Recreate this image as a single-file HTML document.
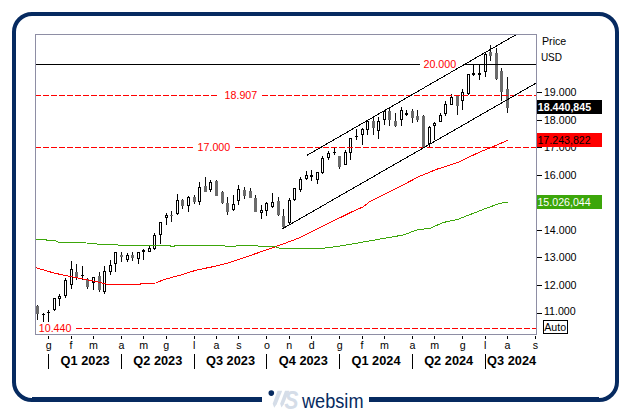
<!DOCTYPE html>
<html><head><meta charset="utf-8"><title>chart</title>
<style>
html,body{margin:0;padding:0;background:#fff;}
body{width:631px;height:414px;overflow:hidden;position:relative;font-family:"Liberation Sans",sans-serif;}
.frame{position:absolute;left:12px;top:12px;width:599px;height:382px;border:4px solid #062a60;border-radius:20px;box-sizing:content-box;}
.logo{position:absolute;left:262px;top:386px;width:107px;height:28px;background:#fff;}
svg{position:absolute;left:0;top:0;}
.t{font:10.67px "Liberation Sans",sans-serif;fill:#000;}
.q{font:bold 13.5px "Liberation Sans",sans-serif;fill:#000;}
.r{font:10.67px "Liberation Sans",sans-serif;fill:#ff0000;}
</style></head><body>
<div class="frame"></div>
<div style="position:absolute;left:32px;top:397.4px;width:567px;height:2px;background:#062a60"></div>
<div class="logo"></div>
<svg width="631" height="414" viewBox="0 0 631 414">
<g shape-rendering="crispEdges">
<rect x="35.5" y="34.5" width="501" height="300" fill="#fff" stroke="#8e8ea4" stroke-width="1"/>
<clipPath id="cp"><rect x="36" y="35" width="500" height="299"/></clipPath>
<g clip-path="url(#cp)">
<rect x="37" y="305" width="1" height="15" fill="#111"/>
<rect x="36" y="306" width="3" height="8" fill="#6b6b6b"/>
<rect x="43" y="313" width="1" height="9" fill="#000"/>
<rect x="42" y="314" width="3" height="1" fill="#000"/>
<rect x="48" y="310" width="1" height="12" fill="#000"/>
<rect x="47" y="312" width="3" height="1" fill="#000"/>
<rect x="54" y="310" width="1" height="1" fill="#000"/>
<rect x="53" y="298" width="3" height="12" fill="#000"/>
<rect x="54" y="299" width="1" height="10" fill="#fff"/>
<rect x="59" y="294" width="1" height="2" fill="#000"/>
<rect x="59" y="298" width="1" height="8" fill="#000"/>
<rect x="58" y="296" width="3" height="3" fill="#000"/>
<rect x="59" y="297" width="1" height="1" fill="#fff"/>
<rect x="65" y="278" width="1" height="2" fill="#000"/>
<rect x="65" y="296" width="1" height="2" fill="#000"/>
<rect x="64" y="280" width="3" height="16" fill="#000"/>
<rect x="65" y="281" width="1" height="14" fill="#fff"/>
<rect x="71" y="261" width="1" height="8" fill="#000"/>
<rect x="71" y="285" width="1" height="4" fill="#000"/>
<rect x="70" y="269" width="3" height="16" fill="#000"/>
<rect x="71" y="270" width="1" height="14" fill="#fff"/>
<rect x="76" y="264" width="1" height="16" fill="#111"/>
<rect x="75" y="272" width="3" height="5" fill="#6b6b6b"/>
<rect x="82" y="266" width="1" height="14" fill="#000"/>
<rect x="81" y="275" width="3" height="1" fill="#000"/>
<rect x="87" y="278" width="1" height="11" fill="#111"/>
<rect x="86" y="279" width="3" height="8" fill="#6b6b6b"/>
<rect x="93" y="283" width="1" height="7" fill="#000"/>
<rect x="92" y="277" width="3" height="6" fill="#000"/>
<rect x="93" y="278" width="1" height="4" fill="#fff"/>
<rect x="99" y="272" width="1" height="20" fill="#111"/>
<rect x="98" y="276" width="3" height="14" fill="#6b6b6b"/>
<rect x="104" y="266" width="1" height="5" fill="#000"/>
<rect x="104" y="292" width="1" height="2" fill="#000"/>
<rect x="103" y="271" width="3" height="21" fill="#000"/>
<rect x="104" y="272" width="1" height="19" fill="#fff"/>
<rect x="110" y="260" width="1" height="5" fill="#000"/>
<rect x="110" y="272" width="1" height="3" fill="#000"/>
<rect x="109" y="265" width="3" height="7" fill="#000"/>
<rect x="110" y="266" width="1" height="5" fill="#fff"/>
<rect x="115" y="264" width="1" height="8" fill="#000"/>
<rect x="114" y="252" width="3" height="12" fill="#000"/>
<rect x="115" y="253" width="1" height="10" fill="#fff"/>
<rect x="121" y="252" width="1" height="10" fill="#111"/>
<rect x="120" y="255" width="3" height="2" fill="#6b6b6b"/>
<rect x="127" y="253" width="1" height="2" fill="#000"/>
<rect x="127" y="260" width="1" height="2" fill="#000"/>
<rect x="126" y="255" width="3" height="5" fill="#000"/>
<rect x="127" y="256" width="1" height="3" fill="#fff"/>
<rect x="132" y="252" width="1" height="9" fill="#111"/>
<rect x="131" y="255" width="3" height="3" fill="#6b6b6b"/>
<rect x="138" y="259" width="1" height="5" fill="#000"/>
<rect x="137" y="252" width="3" height="7" fill="#000"/>
<rect x="138" y="253" width="1" height="5" fill="#fff"/>
<rect x="143" y="249" width="1" height="11" fill="#000"/>
<rect x="142" y="250" width="3" height="2" fill="#000"/>
<rect x="149" y="246" width="1" height="2" fill="#000"/>
<rect x="148" y="248" width="3" height="4" fill="#000"/>
<rect x="149" y="249" width="1" height="2" fill="#fff"/>
<rect x="154" y="233" width="1" height="2" fill="#000"/>
<rect x="154" y="249" width="1" height="1" fill="#000"/>
<rect x="153" y="235" width="3" height="14" fill="#000"/>
<rect x="154" y="236" width="1" height="12" fill="#fff"/>
<rect x="160" y="235" width="1" height="9" fill="#000"/>
<rect x="159" y="222" width="3" height="13" fill="#000"/>
<rect x="160" y="223" width="1" height="11" fill="#fff"/>
<rect x="166" y="213" width="1" height="2" fill="#000"/>
<rect x="166" y="218" width="1" height="7" fill="#000"/>
<rect x="165" y="215" width="3" height="3" fill="#000"/>
<rect x="166" y="216" width="1" height="1" fill="#fff"/>
<rect x="171" y="211" width="1" height="11" fill="#111"/>
<rect x="170" y="215" width="3" height="1" fill="#6b6b6b"/>
<rect x="177" y="194" width="1" height="6" fill="#000"/>
<rect x="177" y="214" width="1" height="1" fill="#000"/>
<rect x="176" y="200" width="3" height="14" fill="#000"/>
<rect x="177" y="201" width="1" height="12" fill="#fff"/>
<rect x="182" y="199" width="1" height="10" fill="#111"/>
<rect x="181" y="200" width="3" height="6" fill="#6b6b6b"/>
<rect x="188" y="196" width="1" height="1" fill="#000"/>
<rect x="188" y="206" width="1" height="6" fill="#000"/>
<rect x="187" y="197" width="3" height="9" fill="#000"/>
<rect x="188" y="198" width="1" height="7" fill="#fff"/>
<rect x="194" y="195" width="1" height="9" fill="#111"/>
<rect x="193" y="197" width="3" height="5" fill="#6b6b6b"/>
<rect x="199" y="182" width="1" height="5" fill="#000"/>
<rect x="199" y="202" width="1" height="3" fill="#000"/>
<rect x="198" y="187" width="3" height="15" fill="#000"/>
<rect x="199" y="188" width="1" height="13" fill="#fff"/>
<rect x="205" y="177" width="1" height="15" fill="#111"/>
<rect x="204" y="186" width="3" height="6" fill="#6b6b6b"/>
<rect x="210" y="180" width="1" height="2" fill="#000"/>
<rect x="210" y="190" width="1" height="2" fill="#000"/>
<rect x="209" y="182" width="3" height="8" fill="#000"/>
<rect x="210" y="183" width="1" height="6" fill="#fff"/>
<rect x="216" y="180" width="1" height="16" fill="#111"/>
<rect x="215" y="181" width="3" height="15" fill="#6b6b6b"/>
<rect x="222" y="191" width="1" height="13" fill="#111"/>
<rect x="221" y="192" width="3" height="11" fill="#6b6b6b"/>
<rect x="227" y="197" width="1" height="18" fill="#111"/>
<rect x="226" y="203" width="3" height="9" fill="#6b6b6b"/>
<rect x="233" y="195" width="1" height="9" fill="#000"/>
<rect x="233" y="210" width="1" height="1" fill="#000"/>
<rect x="232" y="204" width="3" height="6" fill="#000"/>
<rect x="233" y="205" width="1" height="4" fill="#fff"/>
<rect x="238" y="185" width="1" height="4" fill="#000"/>
<rect x="238" y="201" width="1" height="4" fill="#000"/>
<rect x="237" y="189" width="3" height="12" fill="#000"/>
<rect x="238" y="190" width="1" height="10" fill="#fff"/>
<rect x="244" y="187" width="1" height="12" fill="#111"/>
<rect x="243" y="190" width="3" height="6" fill="#6b6b6b"/>
<rect x="250" y="188" width="1" height="10" fill="#111"/>
<rect x="249" y="191" width="3" height="7" fill="#6b6b6b"/>
<rect x="255" y="195" width="1" height="17" fill="#111"/>
<rect x="254" y="198" width="3" height="14" fill="#6b6b6b"/>
<rect x="261" y="205" width="1" height="5" fill="#000"/>
<rect x="261" y="212" width="1" height="7" fill="#000"/>
<rect x="260" y="210" width="3" height="3" fill="#000"/>
<rect x="261" y="211" width="1" height="1" fill="#fff"/>
<rect x="266" y="202" width="1" height="1" fill="#000"/>
<rect x="266" y="211" width="1" height="5" fill="#000"/>
<rect x="265" y="203" width="3" height="8" fill="#000"/>
<rect x="266" y="204" width="1" height="6" fill="#fff"/>
<rect x="272" y="193" width="1" height="9" fill="#000"/>
<rect x="272" y="207" width="1" height="1" fill="#000"/>
<rect x="271" y="202" width="3" height="5" fill="#000"/>
<rect x="272" y="203" width="1" height="3" fill="#fff"/>
<rect x="278" y="197" width="1" height="19" fill="#111"/>
<rect x="277" y="201" width="3" height="14" fill="#6b6b6b"/>
<rect x="283" y="209" width="1" height="19" fill="#111"/>
<rect x="282" y="216" width="3" height="11" fill="#6b6b6b"/>
<rect x="289" y="198" width="1" height="2" fill="#000"/>
<rect x="289" y="223" width="1" height="1" fill="#000"/>
<rect x="288" y="200" width="3" height="23" fill="#000"/>
<rect x="289" y="201" width="1" height="21" fill="#fff"/>
<rect x="294" y="200" width="1" height="1" fill="#000"/>
<rect x="293" y="188" width="3" height="12" fill="#000"/>
<rect x="294" y="189" width="1" height="10" fill="#fff"/>
<rect x="300" y="177" width="1" height="2" fill="#000"/>
<rect x="300" y="190" width="1" height="2" fill="#000"/>
<rect x="299" y="179" width="3" height="11" fill="#000"/>
<rect x="300" y="180" width="1" height="9" fill="#fff"/>
<rect x="306" y="171" width="1" height="4" fill="#000"/>
<rect x="306" y="179" width="1" height="1" fill="#000"/>
<rect x="305" y="175" width="3" height="4" fill="#000"/>
<rect x="306" y="176" width="1" height="2" fill="#fff"/>
<rect x="311" y="170" width="1" height="11" fill="#000"/>
<rect x="310" y="175" width="3" height="2" fill="#000"/>
<rect x="317" y="180" width="1" height="4" fill="#000"/>
<rect x="316" y="172" width="3" height="8" fill="#000"/>
<rect x="317" y="173" width="1" height="6" fill="#fff"/>
<rect x="322" y="156" width="1" height="2" fill="#000"/>
<rect x="322" y="173" width="1" height="1" fill="#000"/>
<rect x="321" y="158" width="3" height="15" fill="#000"/>
<rect x="322" y="159" width="1" height="13" fill="#fff"/>
<rect x="328" y="151" width="1" height="2" fill="#000"/>
<rect x="328" y="158" width="1" height="2" fill="#000"/>
<rect x="327" y="153" width="3" height="5" fill="#000"/>
<rect x="328" y="154" width="1" height="3" fill="#fff"/>
<rect x="334" y="148" width="1" height="7" fill="#000"/>
<rect x="333" y="152" width="3" height="1" fill="#000"/>
<rect x="339" y="156" width="1" height="13" fill="#111"/>
<rect x="338" y="156" width="3" height="11" fill="#6b6b6b"/>
<rect x="345" y="150" width="1" height="2" fill="#000"/>
<rect x="344" y="152" width="3" height="13" fill="#000"/>
<rect x="345" y="153" width="1" height="11" fill="#fff"/>
<rect x="350" y="153" width="1" height="7" fill="#000"/>
<rect x="349" y="138" width="3" height="15" fill="#000"/>
<rect x="350" y="139" width="1" height="13" fill="#fff"/>
<rect x="356" y="129" width="1" height="11" fill="#000"/>
<rect x="355" y="136" width="3" height="1" fill="#000"/>
<rect x="362" y="128" width="1" height="1" fill="#000"/>
<rect x="362" y="135" width="1" height="10" fill="#000"/>
<rect x="361" y="129" width="3" height="6" fill="#000"/>
<rect x="362" y="130" width="1" height="4" fill="#fff"/>
<rect x="367" y="120" width="1" height="1" fill="#000"/>
<rect x="367" y="130" width="1" height="5" fill="#000"/>
<rect x="366" y="121" width="3" height="9" fill="#000"/>
<rect x="367" y="122" width="1" height="7" fill="#fff"/>
<rect x="373" y="118" width="1" height="17" fill="#111"/>
<rect x="372" y="121" width="3" height="7" fill="#6b6b6b"/>
<rect x="378" y="117" width="1" height="4" fill="#000"/>
<rect x="378" y="131" width="1" height="8" fill="#000"/>
<rect x="377" y="121" width="3" height="10" fill="#000"/>
<rect x="378" y="122" width="1" height="8" fill="#fff"/>
<rect x="384" y="110" width="1" height="1" fill="#000"/>
<rect x="384" y="120" width="1" height="5" fill="#000"/>
<rect x="383" y="111" width="3" height="9" fill="#000"/>
<rect x="384" y="112" width="1" height="7" fill="#fff"/>
<rect x="389" y="108" width="1" height="18" fill="#111"/>
<rect x="388" y="111" width="3" height="9" fill="#6b6b6b"/>
<rect x="395" y="113" width="1" height="14" fill="#111"/>
<rect x="394" y="121" width="3" height="5" fill="#6b6b6b"/>
<rect x="401" y="107" width="1" height="3" fill="#000"/>
<rect x="401" y="120" width="1" height="6" fill="#000"/>
<rect x="400" y="110" width="3" height="10" fill="#000"/>
<rect x="401" y="111" width="1" height="8" fill="#fff"/>
<rect x="406" y="110" width="1" height="6" fill="#000"/>
<rect x="405" y="113" width="3" height="2" fill="#000"/>
<rect x="412" y="109" width="1" height="14" fill="#111"/>
<rect x="411" y="111" width="3" height="7" fill="#6b6b6b"/>
<rect x="417" y="110" width="1" height="12" fill="#111"/>
<rect x="416" y="116" width="3" height="4" fill="#6b6b6b"/>
<rect x="423" y="115" width="1" height="33" fill="#111"/>
<rect x="422" y="116" width="3" height="32" fill="#6b6b6b"/>
<rect x="429" y="126" width="1" height="1" fill="#000"/>
<rect x="429" y="144" width="1" height="4" fill="#000"/>
<rect x="428" y="127" width="3" height="17" fill="#000"/>
<rect x="429" y="128" width="1" height="15" fill="#fff"/>
<rect x="434" y="122" width="1" height="1" fill="#000"/>
<rect x="434" y="126" width="1" height="14" fill="#000"/>
<rect x="433" y="123" width="3" height="3" fill="#000"/>
<rect x="434" y="124" width="1" height="1" fill="#fff"/>
<rect x="440" y="113" width="1" height="2" fill="#000"/>
<rect x="439" y="115" width="3" height="7" fill="#000"/>
<rect x="440" y="116" width="1" height="5" fill="#fff"/>
<rect x="445" y="101" width="1" height="3" fill="#000"/>
<rect x="445" y="114" width="1" height="2" fill="#000"/>
<rect x="444" y="104" width="3" height="10" fill="#000"/>
<rect x="445" y="105" width="1" height="8" fill="#fff"/>
<rect x="451" y="94" width="1" height="3" fill="#000"/>
<rect x="450" y="97" width="3" height="8" fill="#000"/>
<rect x="451" y="98" width="1" height="6" fill="#fff"/>
<rect x="457" y="95" width="1" height="20" fill="#111"/>
<rect x="456" y="96" width="3" height="10" fill="#6b6b6b"/>
<rect x="462" y="89" width="1" height="3" fill="#000"/>
<rect x="462" y="101" width="1" height="9" fill="#000"/>
<rect x="461" y="92" width="3" height="9" fill="#000"/>
<rect x="462" y="93" width="1" height="7" fill="#fff"/>
<rect x="468" y="94" width="1" height="1" fill="#000"/>
<rect x="467" y="74" width="3" height="20" fill="#000"/>
<rect x="468" y="75" width="1" height="18" fill="#fff"/>
<rect x="473" y="64" width="1" height="12" fill="#000"/>
<rect x="472" y="73" width="3" height="2" fill="#000"/>
<rect x="479" y="64" width="1" height="16" fill="#000"/>
<rect x="478" y="73" width="3" height="2" fill="#000"/>
<rect x="485" y="52" width="1" height="2" fill="#000"/>
<rect x="485" y="72" width="1" height="5" fill="#000"/>
<rect x="484" y="54" width="3" height="18" fill="#000"/>
<rect x="485" y="55" width="1" height="16" fill="#fff"/>
<rect x="490" y="45" width="1" height="16" fill="#111"/>
<rect x="489" y="52" width="3" height="4" fill="#6b6b6b"/>
<rect x="496" y="48" width="1" height="32" fill="#111"/>
<rect x="495" y="53" width="3" height="26" fill="#6b6b6b"/>
<rect x="501" y="68" width="1" height="33" fill="#111"/>
<rect x="500" y="71" width="3" height="21" fill="#6b6b6b"/>
<rect x="507" y="77" width="1" height="36" fill="#111"/>
<rect x="506" y="89" width="3" height="19" fill="#6b6b6b"/>
<polyline points="35,267.5 55,273.3 71.7,276.7 96.7,281.7 105,283.8 107,284.4 140,284.4 141.5,283.3 156,283.0 163.4,279.8 171,277.6 179.8,275.3 196.7,270 213,266.7 225,263.8 235,260.8 273.3,247.5 291.7,240.8 300,237.6 312.7,231.3 325.3,224.7 338,218.7 350.7,212.4 363.4,206.7 369.7,201.6 379.8,196.8 400,186.5 419,176.6 436.3,169.4 457.3,162.7 480.2,151.8 492.6,146.8 507.8,140.3" fill="none" stroke="#ff0000" stroke-width="1"/>
<polyline points="35,239.5 46,239.7 48,240.8 56,240.9 58,242.2 84,242.3 86,243 96,243.1 98,244.6 117,244.7 119,245.4 170,245.4 171,246.3 174,246.3 175,245.4 224,245.4 226,246.4 235,246.4 237,245.4 257,245.4 259,246.6 275,246.7 281,248.7 320,248.7 341.7,245.8 365,241.7 403.3,235 410,232.5 416.7,230 430,228.3 443.3,222.5 458.3,219.2 473.3,213.3 488.3,207.5 500,203.3 507.5,202.2" fill="none" stroke="#3ca60a" stroke-width="1"/>
<!-- horizontals -->
<rect x="36" y="64" width="384" height="1" fill="#000"/>
<rect x="463" y="64" width="74" height="1" fill="#000"/>
<line x1="35" y1="95.5" x2="217" y2="95.5" stroke="#ff0000" stroke-width="1" stroke-dasharray="6,2"/>
<line x1="262" y1="95.5" x2="537" y2="95.5" stroke="#ff0000" stroke-width="1" stroke-dasharray="6,2"/>
<line x1="35" y1="147.5" x2="193" y2="147.5" stroke="#ff0000" stroke-width="1" stroke-dasharray="6,2"/>
<line x1="235" y1="147.5" x2="537" y2="147.5" stroke="#ff0000" stroke-width="1" stroke-dasharray="6,2"/>
<line x1="76" y1="328.5" x2="537" y2="328.5" stroke="#ff0000" stroke-width="1" stroke-dasharray="6,2"/>
<!-- channel -->
<line x1="306.7" y1="155.5" x2="520" y2="32.4" stroke="#000" stroke-width="1"/>
<line x1="282.5" y1="228.8" x2="537" y2="82.6" stroke="#000" stroke-width="1"/>
</g>
<rect x="537" y="92" width="5" height="1" fill="#000"/>
<text x="543.9" y="95.5" class="t">19.000</text>
<rect x="537" y="120" width="5" height="1" fill="#000"/>
<text x="543.9" y="124" class="t">18.000</text>
<rect x="537" y="147" width="5" height="1" fill="#000"/>
<text x="543.9" y="150.8" class="t">17.000</text>
<rect x="537" y="175" width="5" height="1" fill="#000"/>
<text x="543.9" y="178.9" class="t">16.000</text>
<rect x="537" y="202" width="5" height="1" fill="#000"/>
<text x="543.9" y="206.3" class="t">15.000</text>
<rect x="537" y="230" width="5" height="1" fill="#000"/>
<text x="543.9" y="233.8" class="t">14.000</text>
<rect x="537" y="257" width="5" height="1" fill="#000"/>
<text x="543.9" y="260.7" class="t">13.000</text>
<rect x="537" y="285" width="5" height="1" fill="#000"/>
<text x="543.9" y="288.7" class="t">12.000</text>
<rect x="537" y="313" width="5" height="1" fill="#000"/>
<text x="543.9" y="314.7" class="t">11.000</text>
<rect x="537" y="100" width="65" height="14" fill="#000"/>
<rect x="537" y="133" width="65" height="14" fill="#ff0000"/>
<rect x="537" y="195" width="65" height="14" fill="#3ca60a"/>
<rect x="543.5" y="320.5" width="24" height="13" fill="#fff" stroke="#000" stroke-width="1"/>
<rect x="48" y="336" width="1" height="3" fill="#000"/>
<text x="48.7" y="348.6" class="t" text-anchor="middle">g</text>
<rect x="71" y="336" width="1" height="3" fill="#000"/>
<text x="71.1" y="348.6" class="t" text-anchor="middle">f</text>
<rect x="93" y="336" width="1" height="3" fill="#000"/>
<text x="93.4" y="348.6" class="t" text-anchor="middle">m</text>
<rect x="121" y="336" width="1" height="3" fill="#000"/>
<text x="121.4" y="348.6" class="t" text-anchor="middle">a</text>
<rect x="143" y="336" width="1" height="3" fill="#000"/>
<text x="143.8" y="348.6" class="t" text-anchor="middle">m</text>
<rect x="166" y="336" width="1" height="3" fill="#000"/>
<text x="166.2" y="348.6" class="t" text-anchor="middle">g</text>
<rect x="194" y="336" width="1" height="3" fill="#000"/>
<text x="194.2" y="348.6" class="t" text-anchor="middle">l</text>
<rect x="216" y="336" width="1" height="3" fill="#000"/>
<text x="216.5" y="348.6" class="t" text-anchor="middle">a</text>
<rect x="238" y="336" width="1" height="3" fill="#000"/>
<text x="238.9" y="348.6" class="t" text-anchor="middle">s</text>
<rect x="266" y="336" width="1" height="3" fill="#000"/>
<text x="266.9" y="348.6" class="t" text-anchor="middle">o</text>
<rect x="289" y="336" width="1" height="3" fill="#000"/>
<text x="289.3" y="348.6" class="t" text-anchor="middle">n</text>
<rect x="311" y="336" width="1" height="3" fill="#000"/>
<text x="311.7" y="348.6" class="t" text-anchor="middle">d</text>
<rect x="339" y="336" width="1" height="3" fill="#000"/>
<text x="339.6" y="348.6" class="t" text-anchor="middle">g</text>
<rect x="362" y="336" width="1" height="3" fill="#000"/>
<text x="362.0" y="348.6" class="t" text-anchor="middle">f</text>
<rect x="384" y="336" width="1" height="3" fill="#000"/>
<text x="384.4" y="348.6" class="t" text-anchor="middle">m</text>
<rect x="412" y="336" width="1" height="3" fill="#000"/>
<text x="412.4" y="348.6" class="t" text-anchor="middle">a</text>
<rect x="434" y="336" width="1" height="3" fill="#000"/>
<text x="434.7" y="348.6" class="t" text-anchor="middle">m</text>
<rect x="462" y="336" width="1" height="3" fill="#000"/>
<text x="462.7" y="348.6" class="t" text-anchor="middle">g</text>
<rect x="485" y="336" width="1" height="3" fill="#000"/>
<text x="485.1" y="348.6" class="t" text-anchor="middle">l</text>
<rect x="507" y="336" width="1" height="3" fill="#000"/>
<text x="507.5" y="348.6" class="t" text-anchor="middle">a</text>
<rect x="535" y="336" width="1" height="3" fill="#000"/>
<text x="535.5" y="348.6" class="t" text-anchor="middle">s</text>
<rect x="48" y="354" width="1" height="15" fill="#000"/>
<text x="85.1" y="364.8" class="q" text-anchor="middle" textLength="49" lengthAdjust="spacingAndGlyphs">Q1 2023</text>
<rect x="121" y="354" width="1" height="15" fill="#000"/>
<text x="157.8" y="364.8" class="q" text-anchor="middle" textLength="49" lengthAdjust="spacingAndGlyphs">Q2 2023</text>
<rect x="194" y="354" width="1" height="15" fill="#000"/>
<text x="230.5" y="364.8" class="q" text-anchor="middle" textLength="49" lengthAdjust="spacingAndGlyphs">Q3 2023</text>
<rect x="266" y="354" width="1" height="15" fill="#000"/>
<text x="303.3" y="364.8" class="q" text-anchor="middle" textLength="49" lengthAdjust="spacingAndGlyphs">Q4 2023</text>
<rect x="339" y="354" width="1" height="15" fill="#000"/>
<text x="376.0" y="364.8" class="q" text-anchor="middle" textLength="49" lengthAdjust="spacingAndGlyphs">Q1 2024</text>
<rect x="412" y="354" width="1" height="15" fill="#000"/>
<text x="448.7" y="364.8" class="q" text-anchor="middle" textLength="49" lengthAdjust="spacingAndGlyphs">Q2 2024</text>
<rect x="485" y="354" width="1" height="15" fill="#000"/>
<text x="487.1" y="364.8" class="q" textLength="49" lengthAdjust="spacingAndGlyphs">Q3 2024</text>
</g>
<text x="542" y="45" class="t">Price</text>
<text x="540.9" y="61" class="t" textLength="21.1" lengthAdjust="spacingAndGlyphs">USD</text>
<text x="537.8" y="110.7" style="font:bold 10.67px 'Liberation Sans',sans-serif;fill:#fff">18.440,845</text>
<text x="537.4" y="143.9" class="t" >17.243,822</text>
<text x="537.4" y="205.7" class="t" style="fill:#fff">15.026,044</text>
<text x="544.2" y="331" class="t">Auto</text>
<text x="224.6" y="99" class="r">18.907</text>
<text x="197.6" y="150.8" class="r">17.000</text>
<text x="423.5" y="68" class="r">20.000</text>
<text x="38.8" y="331.8" class="r">10.440</text>
<!-- logo -->
<circle cx="271.3" cy="393.1" r="2.8" fill="#062a60"/>
<g fill="#d5dde8">
<path d="M277.5 390.7 L282.2 390.7 L276.7 404.2 L274.2 407.8 L272.7 403.8 Z"/>
<path d="M285 390.7 L289.3 390.7 L283.8 404.2 L281.4 407.6 L280.2 403.8 Z"/>
<text transform="translate(284.4 409.2) scale(0.8 1)" style="font:italic bold 26px 'Liberation Sans',sans-serif">S</text>
</g>
<text x="302" y="408" style="font:19.5px 'Liberation Sans',sans-serif;fill:#062a60" textLength="61.5" lengthAdjust="spacingAndGlyphs">websim</text>
</svg>
</body></html>
